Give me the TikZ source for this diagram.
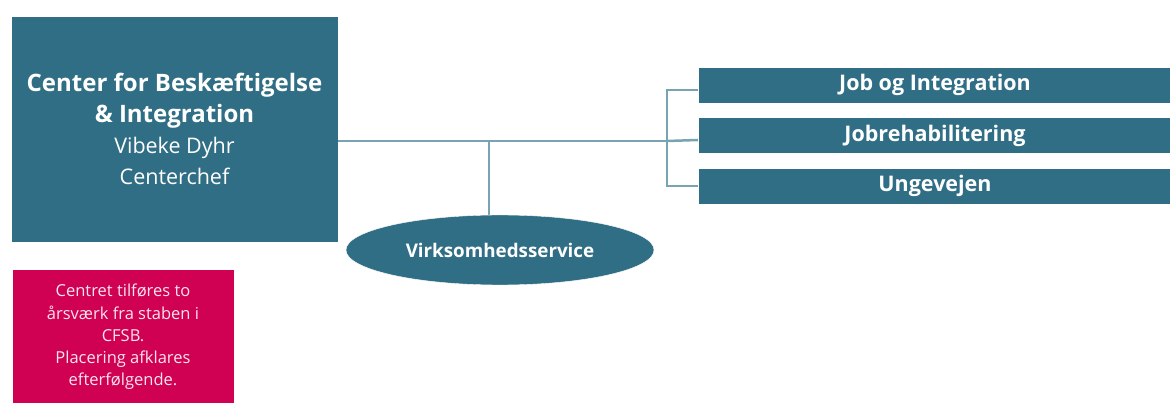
\documentclass[tikz,border=0pt]{standalone}
\usepackage{fontspec}
\setmainfont{Open Sans}
\usetikzlibrary{shapes.geometric}
\definecolor{petrol}{RGB}{47,110,132}
\definecolor{linie}{RGB}{120,163,178}
\definecolor{rosa}{RGB}{208,0,82}
\newcommand\fedtitel[1]{{\bfseries\fontsize{24}{31}\selectfont #1}}
\begin{document}
\begin{tikzpicture}[x=1pt,y=-1pt,
  boks/.style={draw=white,fill=petrol,text=white,inner sep=0pt,align=center},
  afd/.style={boks,minimum width=474,minimum height=36,font=\bfseries\fontsize{21.5}{22}\selectfont},
  forbind/.style={draw=linie,line width=2.5pt}]
\useasboundingbox (0,0) rectangle (1170,403);
% noder
\node[boks,minimum width=327,minimum height=226,font=\fontsize{21.5}{31}\selectfont] (center) at (174.5,129)
  {\fedtitel{Center for Beskæftigelse}\\\fedtitel{\& Integration}\\Vibeke Dyhr\\Centerchef};
\node[boks,fill=rosa,minimum width=222,minimum height=136,font=\fontsize{16.5}{22.2}\selectfont,text=white!90!rosa] (note) at (123,337)
  {Centret tilføres to\\årsværk fra staben i\\CFSB.\\Placering afklares\\efterfølgende.};
\node[afd] (job) at (935,85) {\raisebox{-2pt}{Job og Integration}};
\node[afd] (rehab) at (935,135.5) {\raisebox{-2pt}{Jobrehabilitering}};
\node[afd] (unge) at (935,186) {\raisebox{-2pt}{Ungevejen}};
\coordinate (gren) at (667,141);
\coordinate (vs) at (489,141);
% linier
\draw[forbind] (center.east |- gren) -- (gren);
\draw[forbind] (gren) |- ([yshift=-5pt]job.west);
\draw[forbind] (gren) -- ([yshift=-4.5pt]rehab.west);
\draw[forbind] (gren) |- (unge.west);
\draw[forbind] (vs) -- ++(0,80);
\node[boks,ellipse,minimum width=308,minimum height=70,font=\bfseries\fontsize{18.8}{20}\selectfont] (virk) at (500,250) {Virksomhedsservice};
\end{tikzpicture}
\end{document}
